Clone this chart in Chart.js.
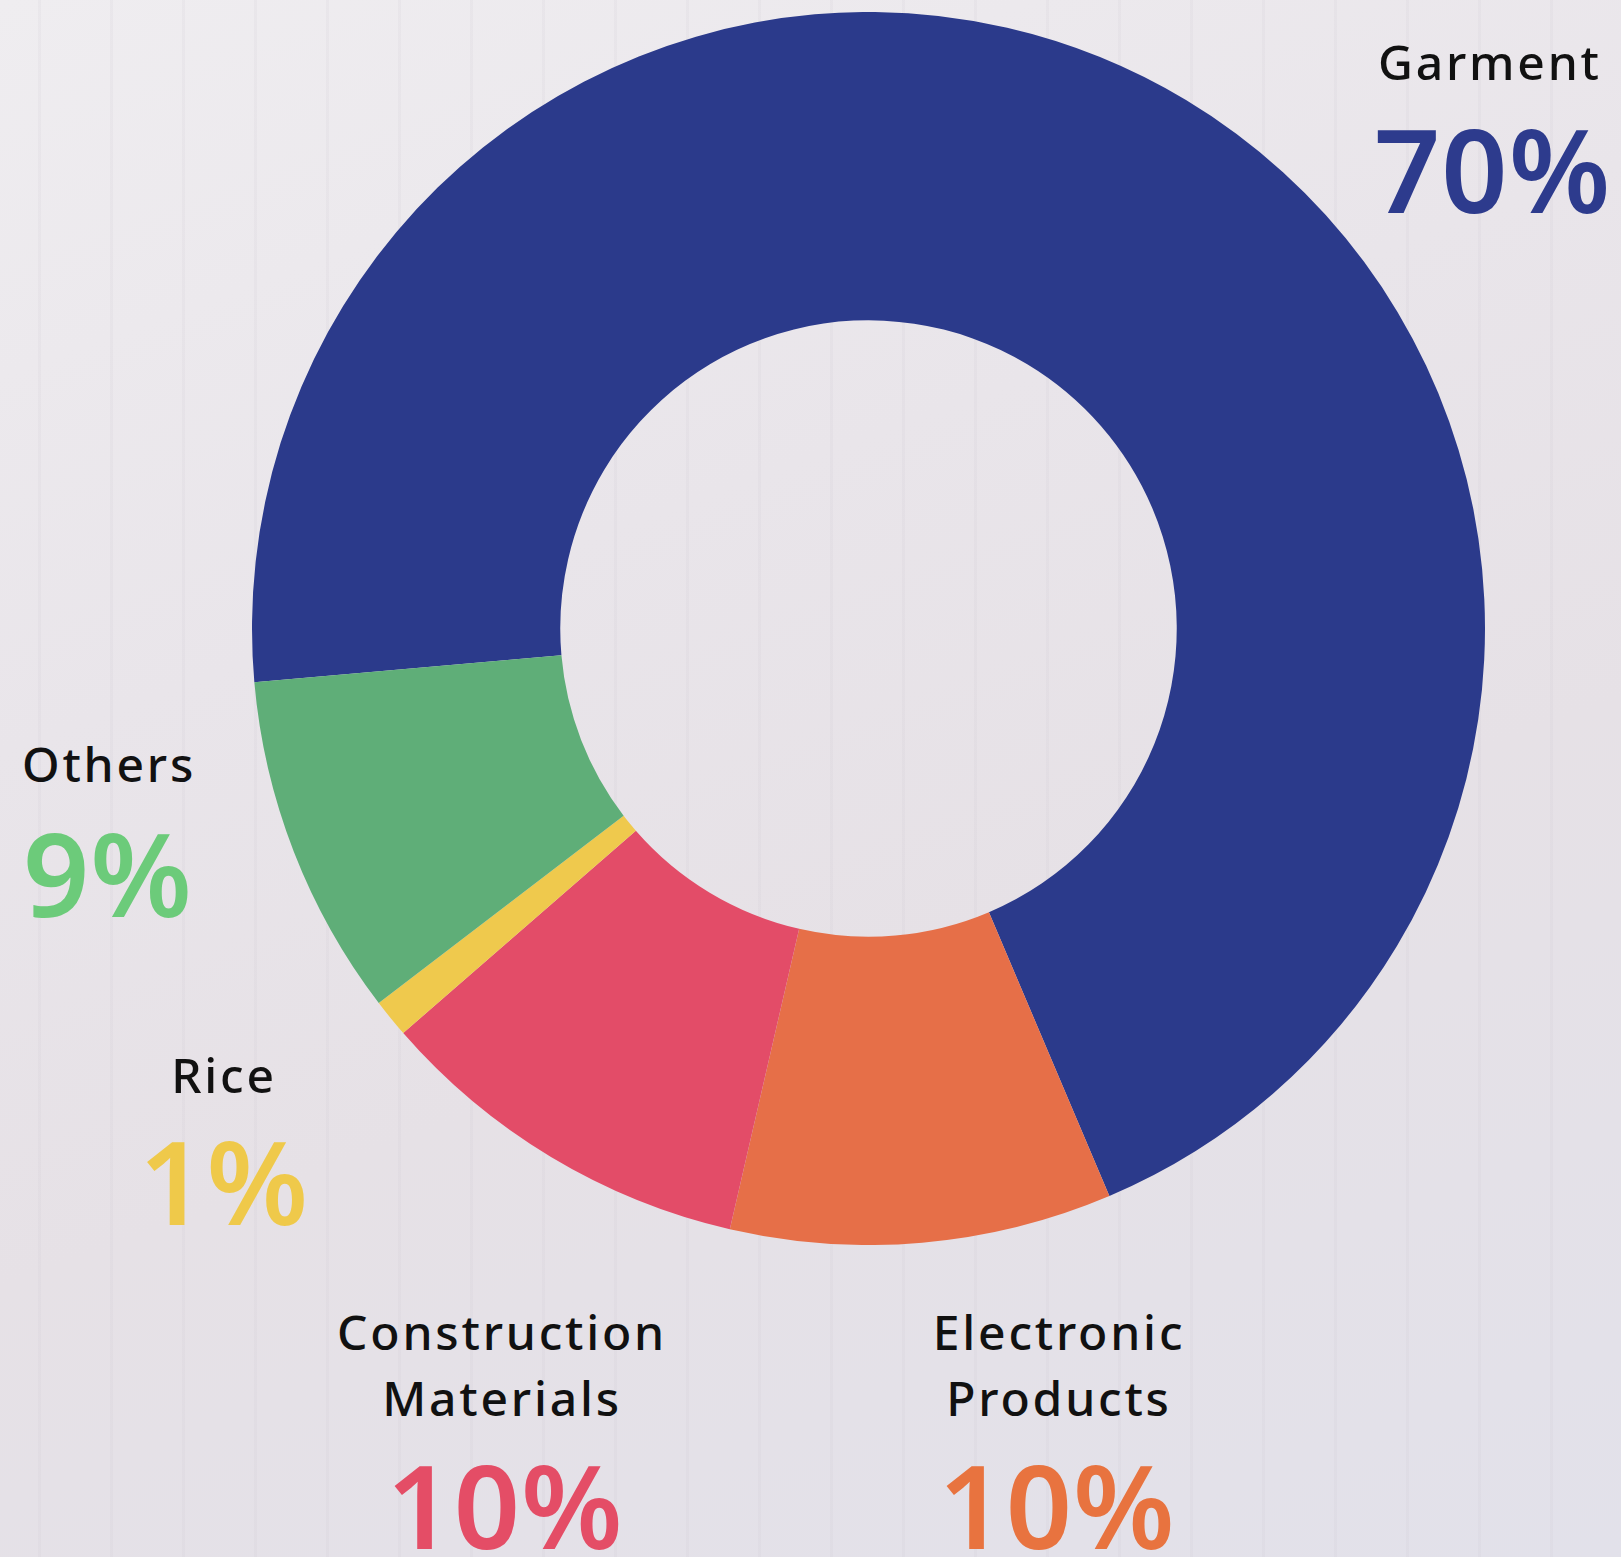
<!DOCTYPE html>
<html>
<head>
<meta charset="utf-8">
<title>Export share</title>
<script src="https://cdn.jsdelivr.net/npm/chart.js@4.4.1/dist/chart.umd.min.js"></script>
<style>
  html, body { margin: 0; padding: 0; }
  body {
    width: 1621px; height: 1557px; overflow: hidden; position: relative;
    font-family: 'Noto Sans', 'Open Sans', sans-serif;
    background:
      repeating-linear-gradient(90deg, rgba(255,255,255,0) 0 38px, rgba(200,195,205,0.14) 38px 41px, rgba(255,255,255,0) 41px 72px),
      linear-gradient(160deg, #efedf0 0%, #e9e5ea 35%, #e6e1e6 60%, #e2e1ea 100%);
  }
  #wrap { position: absolute; left: 252px; top: 12px; width: 1233px; height: 1233px; }
  .lbl { position: absolute; line-height: 1; white-space: nowrap; color: #111; }
  .name { font-size: 48px; font-weight: 500; letter-spacing: 2.8px; }
  .pct { font-size: 116px; font-weight: 600; letter-spacing: 1px; }
  .c { transform: translateX(-50%); text-align: center; }
</style>
</head>
<body>
<div id="wrap"><canvas id="chartExports" width="1233" height="1233"></canvas></div>
<div id="labels"></div>
<script>
  // données
  const categories = ['Garment', 'Electronic Products', 'Construction Materials', 'Rice', 'Others'];
  const shares = [70, 10, 10, 1, 9];
  const sliceColors = ['#2b3a8b', '#e66f48', '#e34c68', '#efc94d', '#5fae78'];
  const pctColors = ['#2d3b8d', '#e8733f', '#e44d66', '#efc94a', '#6ccb7a'];

  // label placement: left or center x, name baseline(s), pct baseline
  const labelPos = [
    { x: 1378, names: [81], pctX: 1374, pctY: 213, center: false },
    { x: 1059, names: [1351, 1417], pctX: 1057, pctY: 1549, center: true },
    { x: 502, names: [1351, 1417], pctX: 505, pctY: 1549, center: true },
    { x: 224, names: [1094], pctX: 224, pctY: 1225, center: true },
    { x: 22, names: [783], pctX: 23, pctY: 917, center: false }
  ];
  const nameLines = [['Garment'], ['Electronic', 'Products'], ['Construction', 'Materials'], ['Rice'], ['Others']];

  function addText(txt, cls, x, baseline, size, color, center) {
    const d = document.createElement('div');
    d.className = 'lbl ' + cls + (center ? ' c' : '');
    d.textContent = txt;
    d.style.left = x + 'px';
    d.style.top = (baseline - 0.888 * size) + 'px';
    if (color) d.style.color = color;
    document.getElementById('labels').appendChild(d);
  }

  labelPos.forEach((p, i) => {
    nameLines[i].forEach((line, j) => addText(line, 'name', p.x, p.names[j], 48, null, p.center));
    addText(shares[i] + '%', 'pct', p.pctX, p.pctY, 116, pctColors[i], p.center);
  });

  new Chart(document.getElementById('chartExports'), {
    type: 'doughnut',
    data: {
      labels: categories,
      datasets: [{
        data: shares,
        backgroundColor: sliceColors,
        borderWidth: 0,
        hoverOffset: 0
      }]
    },
    options: {
      responsive: false,
      animation: false,
      rotation: 265,
      cutout: '50%',
      layout: { padding: 0 },
      plugins: { legend: { display: false }, tooltip: { enabled: false } }
    }
  });
</script>
</body>
</html>
